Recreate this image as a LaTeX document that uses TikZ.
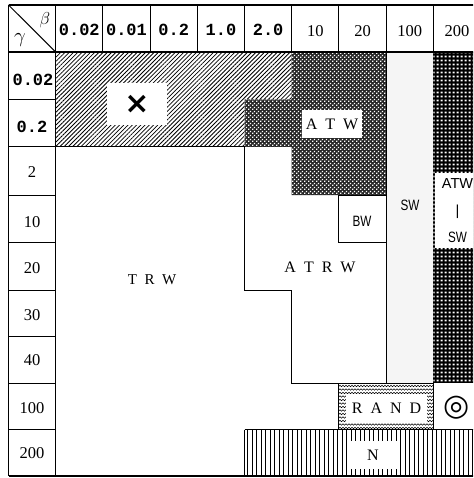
\documentclass[tikz,border=0pt]{standalone}
\usepackage{fontspec}
\usetikzlibrary{patterns,patterns.meta,decorations.pathmorphing}
\setmainfont{Liberation Serif}
\newfontfamily\decf{Liberation Mono}
\newfontfamily\serlab[WordSpace=2]{Liberation Serif}
\newfontfamily\sanc[FakeStretch=0.78]{Liberation Sans}
\newfontfamily\sansn{Liberation Sans}
\newfontfamily\sym{DejaVu Sans}
\pgfdeclarepatternformonly{atwdots}{\pgfpointorigin}{\pgfqpoint{4pt}{4pt}}{\pgfqpoint{4pt}{4pt}}{%
  \pgfpathrectangle{\pgfqpoint{0.25pt}{0.25pt}}{\pgfqpoint{1.5pt}{1.5pt}}%
  \pgfpathrectangle{\pgfqpoint{2.25pt}{2.25pt}}{\pgfqpoint{1.5pt}{1.5pt}}%
  \pgfusepath{fill}}
\pgfdeclarepatternformonly{coldots}{\pgfpointorigin}{\pgfqpoint{4pt}{4pt}}{\pgfqpoint{4pt}{4pt}}{%
  \pgfpathrectangle{\pgfqpoint{0.9pt}{0.9pt}}{\pgfqpoint{2.2pt}{2.2pt}}%
  \pgfusepath{fill}}
\tikzset{
  rule/.style={line width=1pt},
  frame/.style={line width=1.2pt},
  dec/.style={inner sep=0pt,font=\decf\bfseries\fontsize{17}{20}\selectfont},
  intl/.style={inner sep=0pt,font=\fontsize{16.5}{20}\selectfont},
  serlabel/.style={inner sep=0pt,font=\serlab\fontsize{16}{20}\selectfont},
  sanslabel/.style={inner sep=0pt,font=\sanc\fontsize{15}{18}\selectfont},
  sansnlabel/.style={inner sep=0pt,font=\sansn\fontsize{14.5}{18}\selectfont},
  whitebox/.style={fill=white,draw=none,inner sep=0pt},
  greek/.style={inner sep=0pt,font=\fontsize{18}{20}\selectfont},
  wave/.style={line width=0.5pt,decorate,decoration={snake,amplitude=0.8pt,segment length=3pt}},
}
\begin{document}
\begin{tikzpicture}[x=1pt,y=-1pt]
\useasboundingbox (0,0) rectangle (473,478);
\clip (0,0) rectangle (473,478);
\fill[white] (0,0) rectangle (473,478);
% SW column
\fill[black!4] (386.1,52) rectangle (433.3,383);
% column 200 texture
\fill[black] (433.3,52) rectangle (480.5,383);
\fill[pattern=coldots,pattern color=white] (433.3,52) rectangle (480.5,383);
% hatched region
\fill[pattern={Lines[angle=45,distance=3pt,line width=0.8pt]}]
  (55.7,52) -- (291.7,52) -- (291.7,99.5) -- (244.5,99.5) -- (244.5,147) -- (55.7,147) -- cycle;
% ATW region
\path[fill=black!85,postaction={pattern=atwdots,pattern color=white}]
  (291.7,52) -- (386.1,52) -- (386.1,195) -- (291.7,195) -- (291.7,147) -- (244.5,147) -- (244.5,99.5) -- (291.7,99.5) -- cycle;
% N region
\fill[pattern={Lines[angle=90,distance=4.5pt,line width=1pt]}] (244.5,429.5) rectangle (480.5,476);
% RAND waves
\begin{scope}
  \clip (338.9,383) rectangle (433.3,429.5);
  \foreach \yy in {386,389.5,...,430} \draw[wave] (336,\yy) -- (437,\yy);
\end{scope}
% region outlines
\draw[rule] (55.7,147) -- (244.5,147);
\draw[rule] (244.5,147) -- (244.5,290) -- (291.7,290) -- (291.7,383) -- (338.9,383);
\draw[rule] (338.9,195) rectangle (386.1,242.5);
\draw[rule] (386.1,52) -- (386.1,383);
\draw[rule] (338.9,383) rectangle (433.3,429.5);
\draw[rule] (244.5,429.5) -- (480.5,429.5);
\draw[rule] (244.5,429.5) -- (244.5,476);
% table frame
\draw[frame] (8.5,5) -- (480.5,5);
\draw[frame] (8.5,476) -- (480.5,476);
\draw[frame] (8.5,5) -- (8.5,476);
\draw[frame] (55.7,5) -- (55.7,476);
\draw[frame] (8.5,52) -- (480.5,52);
\foreach \xx in {102.9,150.1,197.3,244.5,291.7,338.9,386.1,433.3} \draw[rule] (\xx,5) -- (\xx,52);
\foreach \yy in {99.5,147,195,242.5,290,336.5,383,429.5} \draw[rule] (8.5,\yy) -- (55.7,\yy);
\draw[rule] (8.5,5) -- (55.7,52);
% header labels
\node[greek] (beta) at (45,20) {$\beta$};
\node[greek,font=\fontsize{20}{22}\selectfont] (gamma) at (20,40) {$\gamma$};
\node[dec] (c1) at (79.3,30) {0.02};
\node[dec] (c2) at (126.5,30) {0.01};
\node[dec] (c3) at (173.7,30) {0.2};
\node[dec] (c4) at (220.9,30) {1.0};
\node[dec] (c5) at (268.1,30) {2.0};
\node[intl] (c6) at (315.3,31) {10};
\node[intl] (c7) at (362.5,31) {20};
\node[intl] (c8) at (409.7,31) {100};
\node[intl] (c9) at (456.9,31) {200};
\node[dec] (r1) at (33,79.5) {0.02};
\node[dec] (r2) at (32,127) {0.2};
\node[intl] (r3) at (32,172.5) {2};
\node[intl] (r4) at (32,222) {10};
\node[intl] (r5) at (32,268) {20};
\node[intl] (r6) at (32,315) {30};
\node[intl] (r7) at (32,360) {40};
\node[intl] (r8) at (32,408) {100};
\node[intl] (r9) at (32,453) {200};
% region labels
\node[whitebox,minimum width=60pt,minimum height=42pt,font=\sym\bfseries\fontsize{30}{30}\selectfont] (cross) at (137,104) {×};
\node[whitebox,serlabel,minimum width=60pt,minimum height=28pt] (atw) at (332,124) {A T W};
\node[serlabel,font=\serlab\fontsize{15}{18}\selectfont] (trw) at (152,280) {T R W};
\node[serlabel] (atrw) at (320,267) {A T R W};
\node[sanslabel] (bw) at (362,221) {BW};
\node[sanslabel] (sw) at (410,205) {SW};
\node[whitebox,minimum width=45pt,minimum height=75pt] (atwsw) at (457.5,210.5) {};
\node[sansnlabel] (atw2) at (457.5,184) {ATW};
\node[sansnlabel] (bar) at (457.5,212) {|};
\node[sanslabel] (sw2) at (457.5,237) {SW};
\node[whitebox,serlabel,minimum width=81pt,minimum height=29pt] (rand) at (386.5,408) {R A N D};
\node[font=\sym\fontsize{30}{30}\selectfont,inner sep=0pt] (circ) at (457,408) {◎};
\node[whitebox,serlabel,minimum width=49pt,minimum height=28pt] (n) at (373,455) {N};
\end{tikzpicture}
\end{document}
